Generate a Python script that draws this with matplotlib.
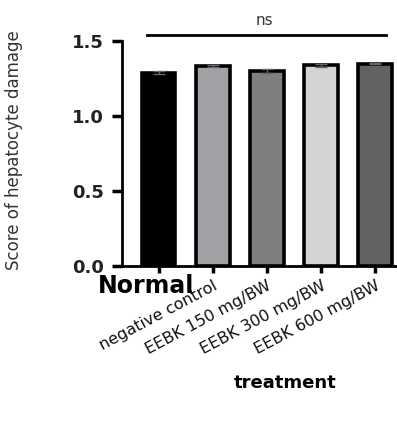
import numpy as np
import matplotlib
matplotlib.use("Agg")
from matplotlib import pyplot as plt

groups = ["Normal", "negative control", "EEBK 150 mg/BW", "EEBK 300 mg/BW", "EEBK 600 mg/BW"]
scores = [1.287, 1.335, 1.300, 1.338, 1.350]
errors = [0.010, 0.006, 0.012, 0.008, 0.006]
fills = ["#000000", "#a2a2a6", "#7f7f7f", "#d3d3d3", "#636363"]
yticks = [0.0, 0.5, 1.0, 1.5]

fig = plt.figure(figsize=(3.97, 4.23), dpi=100)
ax = fig.add_axes([0.307, 0.371, 0.72, 0.532])

x = np.arange(len(groups))
ax.bar(x, scores, width=0.62, color=fills, edgecolor="black", linewidth=2.6)
ax.errorbar(x, scores, yerr=errors, fmt="none", ecolor="#666666", capsize=4, elinewidth=1)

ax.set_xlim(-0.68, 4.6)
ax.set_ylim(0, 1.5)
ax.spines["top"].set_visible(False)
ax.spines["right"].set_visible(False)
ax.spines["left"].set_linewidth(2)
ax.spines["bottom"].set_linewidth(2)

ax.set_yticks(yticks)
ax.set_yticklabels(["0.0", "0.5", "1.0", "1.5"], fontsize=13, fontweight="bold", color="#222222")
ax.tick_params(axis="y", length=7, width=2.5, pad=6)
ax.tick_params(axis="x", length=5, width=2.5)

ax.set_xticks(x)
ax.set_xticklabels([""] + groups[1:], rotation=28, ha="right", rotation_mode="anchor",
                   fontsize=11.5, color="#111111")
ax.text(-0.23, -0.05, groups[0], ha="center", va="top", fontsize=17, fontweight="bold",
        transform=ax.transData, clip_on=False)

ax.set_ylabel("Score of hepatocyte damage", fontsize=12, color="#333333")
ax.yaxis.set_label_coords(-0.345, 0.515)
ax.set_xlabel("treatment", fontsize=13, fontweight="bold")
ax.xaxis.set_label_coords(0.57, -0.48)

# significance line
ax.plot([-0.21, 4.2], [1.54, 1.54], color="black", linewidth=2, clip_on=False)
ax.text(1.96, 1.59, "ns", ha="center", va="bottom", fontsize=11, color="#333333", clip_on=False)

fig.savefig("out.png", dpi=100)
